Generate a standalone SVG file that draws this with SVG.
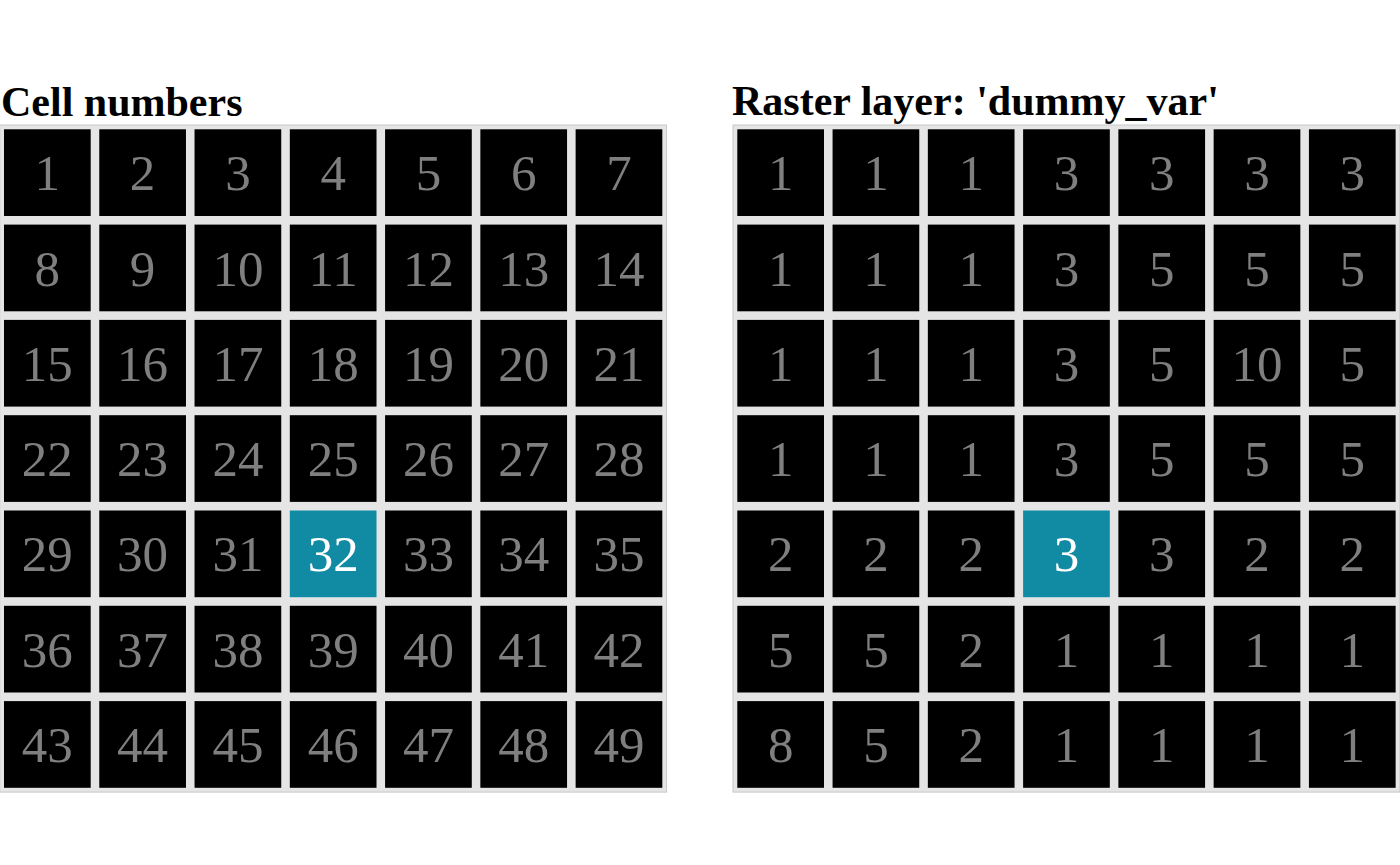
<svg xmlns="http://www.w3.org/2000/svg" width="1400" height="865" viewBox="0 0 1400 865">
<style>
.bg{fill:#ffffff}
.panel{fill:#e5e5e5;stroke:#c8c8c8;stroke-width:1}
.cell{fill:#000000}
.sel{fill:#118aa3}
.t{font-family:"Liberation Serif","Times New Roman",serif;font-size:51px;fill:#7f7f7f;text-anchor:middle}
.ts{font-family:"Liberation Serif","Times New Roman",serif;font-size:51px;fill:#ffffff;text-anchor:middle}
.title{font-family:"Liberation Serif","Times New Roman",serif;font-size:42px;font-weight:bold;fill:#000000}
</style>
<rect class="bg" x="0" y="0" width="1400" height="865"/>
<g id="connectors"></g>
<g id="left-panel">
<text class="title" x="1" y="116">Cell numbers</text>
<rect class="panel" x="-0.3" y="125" width="666.9" height="667.1"/>
<g id="L1"><rect class="cell" x="4" y="129.3" width="86.7" height="86.7"/><text class="t" x="47.35" y="190.25">1</text></g>
<g id="L2"><rect class="cell" x="99.27" y="129.3" width="86.7" height="86.7"/><text class="t" x="142.62" y="190.25">2</text></g>
<g id="L3"><rect class="cell" x="194.54" y="129.3" width="86.7" height="86.7"/><text class="t" x="237.89" y="190.25">3</text></g>
<g id="L4"><rect class="cell" x="289.81" y="129.3" width="86.7" height="86.7"/><text class="t" x="333.16" y="190.25">4</text></g>
<g id="L5"><rect class="cell" x="385.08" y="129.3" width="86.7" height="86.7"/><text class="t" x="428.43" y="190.25">5</text></g>
<g id="L6"><rect class="cell" x="480.35" y="129.3" width="86.7" height="86.7"/><text class="t" x="523.7" y="190.25">6</text></g>
<g id="L7"><rect class="cell" x="575.62" y="129.3" width="86.7" height="86.7"/><text class="t" x="618.97" y="190.25">7</text></g>
<g id="L8"><rect class="cell" x="4" y="224.6" width="86.7" height="86.7"/><text class="t" x="47.35" y="285.55">8</text></g>
<g id="L9"><rect class="cell" x="99.27" y="224.6" width="86.7" height="86.7"/><text class="t" x="142.62" y="285.55">9</text></g>
<g id="L10"><rect class="cell" x="194.54" y="224.6" width="86.7" height="86.7"/><text class="t" x="237.89" y="285.55">10</text></g>
<g id="L11"><rect class="cell" x="289.81" y="224.6" width="86.7" height="86.7"/><text class="t" x="333.16" y="285.55">11</text></g>
<g id="L12"><rect class="cell" x="385.08" y="224.6" width="86.7" height="86.7"/><text class="t" x="428.43" y="285.55">12</text></g>
<g id="L13"><rect class="cell" x="480.35" y="224.6" width="86.7" height="86.7"/><text class="t" x="523.7" y="285.55">13</text></g>
<g id="L14"><rect class="cell" x="575.62" y="224.6" width="86.7" height="86.7"/><text class="t" x="618.97" y="285.55">14</text></g>
<g id="L15"><rect class="cell" x="4" y="319.9" width="86.7" height="86.7"/><text class="t" x="47.35" y="380.85">15</text></g>
<g id="L16"><rect class="cell" x="99.27" y="319.9" width="86.7" height="86.7"/><text class="t" x="142.62" y="380.85">16</text></g>
<g id="L17"><rect class="cell" x="194.54" y="319.9" width="86.7" height="86.7"/><text class="t" x="237.89" y="380.85">17</text></g>
<g id="L18"><rect class="cell" x="289.81" y="319.9" width="86.7" height="86.7"/><text class="t" x="333.16" y="380.85">18</text></g>
<g id="L19"><rect class="cell" x="385.08" y="319.9" width="86.7" height="86.7"/><text class="t" x="428.43" y="380.85">19</text></g>
<g id="L20"><rect class="cell" x="480.35" y="319.9" width="86.7" height="86.7"/><text class="t" x="523.7" y="380.85">20</text></g>
<g id="L21"><rect class="cell" x="575.62" y="319.9" width="86.7" height="86.7"/><text class="t" x="618.97" y="380.85">21</text></g>
<g id="L22"><rect class="cell" x="4" y="415.2" width="86.7" height="86.7"/><text class="t" x="47.35" y="476.15">22</text></g>
<g id="L23"><rect class="cell" x="99.27" y="415.2" width="86.7" height="86.7"/><text class="t" x="142.62" y="476.15">23</text></g>
<g id="L24"><rect class="cell" x="194.54" y="415.2" width="86.7" height="86.7"/><text class="t" x="237.89" y="476.15">24</text></g>
<g id="L25"><rect class="cell" x="289.81" y="415.2" width="86.7" height="86.7"/><text class="t" x="333.16" y="476.15">25</text></g>
<g id="L26"><rect class="cell" x="385.08" y="415.2" width="86.7" height="86.7"/><text class="t" x="428.43" y="476.15">26</text></g>
<g id="L27"><rect class="cell" x="480.35" y="415.2" width="86.7" height="86.7"/><text class="t" x="523.7" y="476.15">27</text></g>
<g id="L28"><rect class="cell" x="575.62" y="415.2" width="86.7" height="86.7"/><text class="t" x="618.97" y="476.15">28</text></g>
<g id="L29"><rect class="cell" x="4" y="510.5" width="86.7" height="86.7"/><text class="t" x="47.35" y="571.45">29</text></g>
<g id="L30"><rect class="cell" x="99.27" y="510.5" width="86.7" height="86.7"/><text class="t" x="142.62" y="571.45">30</text></g>
<g id="L31"><rect class="cell" x="194.54" y="510.5" width="86.7" height="86.7"/><text class="t" x="237.89" y="571.45">31</text></g>
<g id="L32"><rect class="sel" x="289.81" y="510.5" width="86.7" height="86.7"/><text class="ts" x="333.16" y="571.45">32</text></g>
<g id="L33"><rect class="cell" x="385.08" y="510.5" width="86.7" height="86.7"/><text class="t" x="428.43" y="571.45">33</text></g>
<g id="L34"><rect class="cell" x="480.35" y="510.5" width="86.7" height="86.7"/><text class="t" x="523.7" y="571.45">34</text></g>
<g id="L35"><rect class="cell" x="575.62" y="510.5" width="86.7" height="86.7"/><text class="t" x="618.97" y="571.45">35</text></g>
<g id="L36"><rect class="cell" x="4" y="605.8" width="86.7" height="86.7"/><text class="t" x="47.35" y="666.75">36</text></g>
<g id="L37"><rect class="cell" x="99.27" y="605.8" width="86.7" height="86.7"/><text class="t" x="142.62" y="666.75">37</text></g>
<g id="L38"><rect class="cell" x="194.54" y="605.8" width="86.7" height="86.7"/><text class="t" x="237.89" y="666.75">38</text></g>
<g id="L39"><rect class="cell" x="289.81" y="605.8" width="86.7" height="86.7"/><text class="t" x="333.16" y="666.75">39</text></g>
<g id="L40"><rect class="cell" x="385.08" y="605.8" width="86.7" height="86.7"/><text class="t" x="428.43" y="666.75">40</text></g>
<g id="L41"><rect class="cell" x="480.35" y="605.8" width="86.7" height="86.7"/><text class="t" x="523.7" y="666.75">41</text></g>
<g id="L42"><rect class="cell" x="575.62" y="605.8" width="86.7" height="86.7"/><text class="t" x="618.97" y="666.75">42</text></g>
<g id="L43"><rect class="cell" x="4" y="701.1" width="86.7" height="86.7"/><text class="t" x="47.35" y="762.05">43</text></g>
<g id="L44"><rect class="cell" x="99.27" y="701.1" width="86.7" height="86.7"/><text class="t" x="142.62" y="762.05">44</text></g>
<g id="L45"><rect class="cell" x="194.54" y="701.1" width="86.7" height="86.7"/><text class="t" x="237.89" y="762.05">45</text></g>
<g id="L46"><rect class="cell" x="289.81" y="701.1" width="86.7" height="86.7"/><text class="t" x="333.16" y="762.05">46</text></g>
<g id="L47"><rect class="cell" x="385.08" y="701.1" width="86.7" height="86.7"/><text class="t" x="428.43" y="762.05">47</text></g>
<g id="L48"><rect class="cell" x="480.35" y="701.1" width="86.7" height="86.7"/><text class="t" x="523.7" y="762.05">48</text></g>
<g id="L49"><rect class="cell" x="575.62" y="701.1" width="86.7" height="86.7"/><text class="t" x="618.97" y="762.05">49</text></g>
</g>
<g id="right-panel">
<text class="title" x="732" y="115">Raster layer: 'dummy_var'</text>
<rect class="panel" x="733" y="125" width="666.9" height="667.1"/>
<g id="R1"><rect class="cell" x="737.3" y="129.3" width="86.7" height="86.7"/><text class="t" x="780.65" y="190.25">1</text></g>
<g id="R2"><rect class="cell" x="832.57" y="129.3" width="86.7" height="86.7"/><text class="t" x="875.92" y="190.25">1</text></g>
<g id="R3"><rect class="cell" x="927.84" y="129.3" width="86.7" height="86.7"/><text class="t" x="971.19" y="190.25">1</text></g>
<g id="R4"><rect class="cell" x="1023.11" y="129.3" width="86.7" height="86.7"/><text class="t" x="1066.46" y="190.25">3</text></g>
<g id="R5"><rect class="cell" x="1118.38" y="129.3" width="86.7" height="86.7"/><text class="t" x="1161.73" y="190.25">3</text></g>
<g id="R6"><rect class="cell" x="1213.65" y="129.3" width="86.7" height="86.7"/><text class="t" x="1257" y="190.25">3</text></g>
<g id="R7"><rect class="cell" x="1308.92" y="129.3" width="86.7" height="86.7"/><text class="t" x="1352.27" y="190.25">3</text></g>
<g id="R8"><rect class="cell" x="737.3" y="224.6" width="86.7" height="86.7"/><text class="t" x="780.65" y="285.55">1</text></g>
<g id="R9"><rect class="cell" x="832.57" y="224.6" width="86.7" height="86.7"/><text class="t" x="875.92" y="285.55">1</text></g>
<g id="R10"><rect class="cell" x="927.84" y="224.6" width="86.7" height="86.7"/><text class="t" x="971.19" y="285.55">1</text></g>
<g id="R11"><rect class="cell" x="1023.11" y="224.6" width="86.7" height="86.7"/><text class="t" x="1066.46" y="285.55">3</text></g>
<g id="R12"><rect class="cell" x="1118.38" y="224.6" width="86.7" height="86.7"/><text class="t" x="1161.73" y="285.55">5</text></g>
<g id="R13"><rect class="cell" x="1213.65" y="224.6" width="86.7" height="86.7"/><text class="t" x="1257" y="285.55">5</text></g>
<g id="R14"><rect class="cell" x="1308.92" y="224.6" width="86.7" height="86.7"/><text class="t" x="1352.27" y="285.55">5</text></g>
<g id="R15"><rect class="cell" x="737.3" y="319.9" width="86.7" height="86.7"/><text class="t" x="780.65" y="380.85">1</text></g>
<g id="R16"><rect class="cell" x="832.57" y="319.9" width="86.7" height="86.7"/><text class="t" x="875.92" y="380.85">1</text></g>
<g id="R17"><rect class="cell" x="927.84" y="319.9" width="86.7" height="86.7"/><text class="t" x="971.19" y="380.85">1</text></g>
<g id="R18"><rect class="cell" x="1023.11" y="319.9" width="86.7" height="86.7"/><text class="t" x="1066.46" y="380.85">3</text></g>
<g id="R19"><rect class="cell" x="1118.38" y="319.9" width="86.7" height="86.7"/><text class="t" x="1161.73" y="380.85">5</text></g>
<g id="R20"><rect class="cell" x="1213.65" y="319.9" width="86.7" height="86.7"/><text class="t" x="1257" y="380.85">10</text></g>
<g id="R21"><rect class="cell" x="1308.92" y="319.9" width="86.7" height="86.7"/><text class="t" x="1352.27" y="380.85">5</text></g>
<g id="R22"><rect class="cell" x="737.3" y="415.2" width="86.7" height="86.7"/><text class="t" x="780.65" y="476.15">1</text></g>
<g id="R23"><rect class="cell" x="832.57" y="415.2" width="86.7" height="86.7"/><text class="t" x="875.92" y="476.15">1</text></g>
<g id="R24"><rect class="cell" x="927.84" y="415.2" width="86.7" height="86.7"/><text class="t" x="971.19" y="476.15">1</text></g>
<g id="R25"><rect class="cell" x="1023.11" y="415.2" width="86.7" height="86.7"/><text class="t" x="1066.46" y="476.15">3</text></g>
<g id="R26"><rect class="cell" x="1118.38" y="415.2" width="86.7" height="86.7"/><text class="t" x="1161.73" y="476.15">5</text></g>
<g id="R27"><rect class="cell" x="1213.65" y="415.2" width="86.7" height="86.7"/><text class="t" x="1257" y="476.15">5</text></g>
<g id="R28"><rect class="cell" x="1308.92" y="415.2" width="86.7" height="86.7"/><text class="t" x="1352.27" y="476.15">5</text></g>
<g id="R29"><rect class="cell" x="737.3" y="510.5" width="86.7" height="86.7"/><text class="t" x="780.65" y="571.45">2</text></g>
<g id="R30"><rect class="cell" x="832.57" y="510.5" width="86.7" height="86.7"/><text class="t" x="875.92" y="571.45">2</text></g>
<g id="R31"><rect class="cell" x="927.84" y="510.5" width="86.7" height="86.7"/><text class="t" x="971.19" y="571.45">2</text></g>
<g id="R32"><rect class="sel" x="1023.11" y="510.5" width="86.7" height="86.7"/><text class="ts" x="1066.46" y="571.45">3</text></g>
<g id="R33"><rect class="cell" x="1118.38" y="510.5" width="86.7" height="86.7"/><text class="t" x="1161.73" y="571.45">3</text></g>
<g id="R34"><rect class="cell" x="1213.65" y="510.5" width="86.7" height="86.7"/><text class="t" x="1257" y="571.45">2</text></g>
<g id="R35"><rect class="cell" x="1308.92" y="510.5" width="86.7" height="86.7"/><text class="t" x="1352.27" y="571.45">2</text></g>
<g id="R36"><rect class="cell" x="737.3" y="605.8" width="86.7" height="86.7"/><text class="t" x="780.65" y="666.75">5</text></g>
<g id="R37"><rect class="cell" x="832.57" y="605.8" width="86.7" height="86.7"/><text class="t" x="875.92" y="666.75">5</text></g>
<g id="R38"><rect class="cell" x="927.84" y="605.8" width="86.7" height="86.7"/><text class="t" x="971.19" y="666.75">2</text></g>
<g id="R39"><rect class="cell" x="1023.11" y="605.8" width="86.7" height="86.7"/><text class="t" x="1066.46" y="666.75">1</text></g>
<g id="R40"><rect class="cell" x="1118.38" y="605.8" width="86.7" height="86.7"/><text class="t" x="1161.73" y="666.75">1</text></g>
<g id="R41"><rect class="cell" x="1213.65" y="605.8" width="86.7" height="86.7"/><text class="t" x="1257" y="666.75">1</text></g>
<g id="R42"><rect class="cell" x="1308.92" y="605.8" width="86.7" height="86.7"/><text class="t" x="1352.27" y="666.75">1</text></g>
<g id="R43"><rect class="cell" x="737.3" y="701.1" width="86.7" height="86.7"/><text class="t" x="780.65" y="762.05">8</text></g>
<g id="R44"><rect class="cell" x="832.57" y="701.1" width="86.7" height="86.7"/><text class="t" x="875.92" y="762.05">5</text></g>
<g id="R45"><rect class="cell" x="927.84" y="701.1" width="86.7" height="86.7"/><text class="t" x="971.19" y="762.05">2</text></g>
<g id="R46"><rect class="cell" x="1023.11" y="701.1" width="86.7" height="86.7"/><text class="t" x="1066.46" y="762.05">1</text></g>
<g id="R47"><rect class="cell" x="1118.38" y="701.1" width="86.7" height="86.7"/><text class="t" x="1161.73" y="762.05">1</text></g>
<g id="R48"><rect class="cell" x="1213.65" y="701.1" width="86.7" height="86.7"/><text class="t" x="1257" y="762.05">1</text></g>
<g id="R49"><rect class="cell" x="1308.92" y="701.1" width="86.7" height="86.7"/><text class="t" x="1352.27" y="762.05">1</text></g>
</g>
</svg>
